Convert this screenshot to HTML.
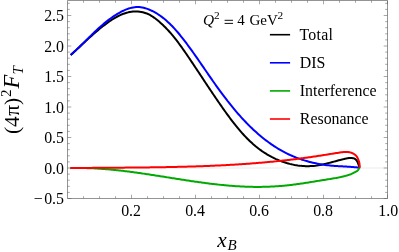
<!DOCTYPE html>
<html><head><meta charset="utf-8"><title>plot</title>
<style>html,body{margin:0;padding:0;background:#fff;}svg{display:block;will-change:transform;}</style></head>
<body>
<svg width="399" height="252" viewBox="0 0 399 252">
<rect width="399" height="252" fill="#fff"/>
<line x1="67.50" y1="168.00" x2="387.50" y2="168.00" stroke="#ebebeb" stroke-width="1"/>
<path d="M70.70 55.10L71.88 54.01L73.06 52.92L74.24 51.82L75.41 50.72L76.59 49.62L77.76 48.52L78.93 47.41L80.11 46.31L81.28 45.20L82.46 44.10L83.64 43.00L84.82 41.90L86.00 40.81L87.18 39.71L88.37 38.62L89.57 37.54L90.77 36.46L91.97 35.39L93.18 34.32L94.39 33.26L95.61 32.21L96.84 31.16L98.08 30.13L99.32 29.10L100.57 28.09L101.83 27.08L103.10 26.08L104.38 25.10L105.67 24.13L106.97 23.17L108.28 22.23L109.60 21.30L110.93 20.39L112.28 19.50L113.64 18.64L115.02 17.81L116.41 17.02L117.82 16.26L119.25 15.55L120.70 14.88L122.17 14.26L123.66 13.69L125.17 13.18L126.70 12.73L128.26 12.35L129.84 12.03L131.45 11.78L133.08 11.61L134.72 11.52L136.36 11.50L138.00 11.57L139.64 11.71L141.26 11.95L142.85 12.27L144.42 12.68L145.94 13.18L147.43 13.78L148.88 14.45L150.29 15.20L151.67 16.02L153.02 16.89L154.34 17.81L155.63 18.77L156.90 19.77L158.15 20.79L159.38 21.83L160.59 22.89L161.78 23.97L162.95 25.06L164.10 26.18L165.24 27.31L166.36 28.46L167.46 29.62L168.55 30.80L169.62 31.99L170.68 33.20L171.73 34.42L172.77 35.65L173.79 36.89L174.80 38.15L175.80 39.41L176.78 40.68L177.76 41.97L178.73 43.26L179.69 44.55L180.65 45.86L181.59 47.17L182.53 48.49L183.46 49.81L184.39 51.13L185.31 52.46L186.22 53.80L187.14 55.13L188.05 56.47L188.95 57.80L189.86 59.14L190.76 60.48L191.66 61.82L192.56 63.16L193.45 64.50L194.35 65.84L195.24 67.18L196.13 68.52L197.02 69.86L197.91 71.20L198.80 72.54L199.68 73.88L200.57 75.22L201.46 76.57L202.34 77.91L203.23 79.25L204.12 80.59L205.00 81.93L205.89 83.27L206.78 84.61L207.67 85.95L208.56 87.29L209.45 88.63L210.34 89.96L211.24 91.30L212.13 92.64L213.03 93.97L213.93 95.30L214.83 96.64L215.74 97.97L216.65 99.30L217.56 100.63L218.47 101.96L219.38 103.28L220.30 104.61L221.23 105.93L222.15 107.25L223.08 108.58L224.02 109.89L224.95 111.21L225.90 112.53L226.84 113.84L227.80 115.15L228.75 116.46L229.72 117.76L230.69 119.05L231.66 120.35L232.65 121.63L233.64 122.91L234.64 124.18L235.64 125.45L236.66 126.70L237.68 127.95L238.72 129.19L239.76 130.42L240.82 131.63L241.88 132.84L242.96 134.03L244.04 135.22L245.14 136.38L246.25 137.54L247.37 138.68L248.51 139.81L249.66 140.92L250.82 142.01L252.00 143.09L253.19 144.16L254.40 145.20L255.62 146.23L256.86 147.23L258.11 148.22L259.38 149.19L260.67 150.14L261.97 151.07L263.29 151.97L264.63 152.85L265.99 153.71L267.36 154.55L268.76 155.36L270.17 156.15L271.60 156.92L273.05 157.65L274.51 158.36L275.99 159.05L277.49 159.70L278.99 160.33L280.51 160.93L282.04 161.50L283.58 162.05L285.13 162.56L286.69 163.04L288.25 163.48L289.83 163.90L291.41 164.28L293.00 164.63L294.59 164.95L296.18 165.23L297.78 165.48L299.38 165.69L300.98 165.87L302.58 166.00L304.18 166.10L305.78 166.17L307.37 166.19L308.97 166.18L310.56 166.12L312.14 166.03L313.72 165.89L315.29 165.72L316.86 165.51L318.43 165.26L319.99 164.99L321.55 164.68L323.11 164.36L324.66 164.01L326.22 163.64L327.78 163.25L329.34 162.85L330.90 162.44L332.46 162.02L334.03 161.60L335.61 161.18L337.19 160.76L338.77 160.34L340.37 159.93L340.68 159.85L340.99 159.77L341.31 159.69L341.62 159.61L341.94 159.53L342.25 159.46L342.57 159.38L342.88 159.30L343.20 159.22L343.51 159.14L343.83 159.07L344.14 158.99L344.46 158.91L344.77 158.84L345.08 158.77L345.40 158.70L345.71 158.63L346.02 158.56L346.33 158.49L346.64 158.43L346.95 158.36L347.26 158.31L347.57 158.25L347.88 158.20L348.19 158.15L348.50 158.11L348.81 158.07L349.12 158.04L349.42 158.02L349.73 158.01L350.04 158.00L350.35 158.00L350.67 158.01L350.98 158.02L351.30 158.03L351.62 158.05L351.94 158.07L352.25 158.10L352.57 158.13L352.88 158.16L353.18 158.19L353.47 158.24L353.77 158.32L354.07 158.44L354.37 158.58L354.65 158.75L354.93 158.93L355.20 159.12L355.45 159.32L355.69 159.51L355.91 159.71L356.13 159.93L356.34 160.17L356.54 160.42L356.74 160.69L356.92 160.96L357.09 161.23L357.25 161.51L357.40 161.78L357.54 162.06L357.67 162.34L357.79 162.63L357.91 162.93L358.02 163.23L358.13 163.53L358.23 163.83L358.34 164.13L358.45 164.43L358.56 164.73L358.67 165.02L358.78 165.32L358.90 165.62L359.01 165.91L359.12 166.21L359.22 166.51L359.33 166.81L359.44 167.10L359.54 167.40L359.65 167.70" fill="none" stroke="#000" stroke-width="2.00" stroke-linejoin="round" stroke-linecap="butt"/>
<path d="M70.70 54.90L71.90 53.87L73.08 52.83L74.25 51.77L75.42 50.71L76.57 49.64L77.72 48.57L78.85 47.48L79.99 46.40L81.11 45.30L82.24 44.21L83.36 43.11L84.47 42.00L85.59 40.90L86.71 39.79L87.82 38.69L88.94 37.58L90.05 36.48L91.17 35.38L92.30 34.28L93.43 33.18L94.56 32.09L95.70 31.01L96.85 29.93L98.01 28.86L99.18 27.79L100.35 26.74L101.54 25.69L102.74 24.66L103.95 23.63L105.18 22.62L106.42 21.62L107.68 20.64L108.95 19.66L110.24 18.71L111.55 17.76L112.88 16.84L114.22 15.93L115.59 15.04L116.98 14.17L118.39 13.33L119.82 12.51L121.26 11.74L122.72 11.00L124.19 10.31L125.67 9.67L127.16 9.08L128.66 8.56L130.17 8.11L131.68 7.73L133.19 7.42L134.70 7.20L136.21 7.06L137.72 7.02L139.22 7.07L140.72 7.22L142.21 7.46L143.69 7.77L145.16 8.16L146.61 8.62L148.05 9.13L149.48 9.71L150.89 10.32L152.27 10.98L153.64 11.68L154.99 12.42L156.32 13.20L157.63 14.01L158.92 14.85L160.20 15.73L161.46 16.64L162.70 17.58L163.93 18.55L165.14 19.55L166.33 20.58L167.51 21.63L168.67 22.70L169.82 23.80L170.96 24.92L172.08 26.06L173.19 27.22L174.28 28.39L175.37 29.59L176.44 30.80L177.49 32.02L178.54 33.26L179.58 34.50L180.60 35.76L181.62 37.03L182.62 38.30L183.62 39.58L184.60 40.87L185.58 42.16L186.55 43.45L187.51 44.74L188.46 46.04L189.41 47.33L190.35 48.62L191.28 49.91L192.20 51.20L193.12 52.49L194.04 53.78L194.95 55.07L195.86 56.36L196.76 57.65L197.65 58.94L198.55 60.22L199.44 61.51L200.33 62.79L201.21 64.08L202.09 65.36L202.98 66.65L203.86 67.93L204.74 69.21L205.62 70.49L206.50 71.77L207.38 73.05L208.26 74.33L209.14 75.61L210.02 76.88L210.91 78.16L211.79 79.44L212.68 80.71L213.58 81.99L214.47 83.26L215.37 84.53L216.28 85.81L217.19 87.08L218.10 88.35L219.02 89.62L219.94 90.89L220.87 92.16L221.81 93.42L222.75 94.69L223.70 95.95L224.66 97.22L225.62 98.48L226.59 99.73L227.56 100.99L228.54 102.24L229.53 103.49L230.53 104.73L231.53 105.97L232.54 107.20L233.55 108.43L234.57 109.66L235.60 110.88L236.64 112.09L237.68 113.30L238.74 114.50L239.79 115.70L240.86 116.88L241.93 118.06L243.02 119.24L244.10 120.40L245.20 121.56L246.30 122.71L247.42 123.85L248.54 124.98L249.66 126.10L250.80 127.21L251.95 128.31L253.10 129.40L254.26 130.48L255.43 131.55L256.61 132.61L257.79 133.66L258.99 134.69L260.19 135.71L261.40 136.72L262.62 137.72L263.85 138.70L265.09 139.67L266.34 140.63L267.59 141.57L268.86 142.50L270.14 143.41L271.42 144.31L272.71 145.19L274.02 146.06L275.33 146.91L276.65 147.75L277.98 148.57L279.32 149.37L280.68 150.15L282.04 150.92L283.41 151.67L284.79 152.40L286.18 153.11L287.58 153.81L288.99 154.48L290.41 155.14L291.84 155.77L293.29 156.39L294.74 156.99L296.20 157.57L297.67 158.13L299.14 158.66L300.63 159.18L302.12 159.69L303.63 160.17L305.13 160.63L306.65 161.08L308.17 161.50L309.70 161.91L311.23 162.29L312.77 162.66L314.32 163.01L315.87 163.35L317.42 163.66L318.98 163.95L320.54 164.23L322.11 164.49L323.68 164.73L325.25 164.95L326.82 165.15L328.40 165.34L329.98 165.50L331.56 165.65L333.14 165.78L334.72 165.90L335.04 165.93L335.35 165.95L335.67 165.97L335.99 165.99L336.31 166.01L336.62 166.03L336.94 166.05L337.26 166.07L337.57 166.09L337.89 166.11L338.21 166.13L338.52 166.14L338.84 166.16L339.16 166.18L339.47 166.20L339.79 166.21L340.11 166.23L340.42 166.25L340.74 166.26L341.05 166.28L341.37 166.29L341.68 166.31L342.00 166.33L342.31 166.34L342.63 166.36L342.94 166.38L343.26 166.40L343.57 166.41L343.89 166.43L344.20 166.45L344.52 166.47L344.83 166.49L345.15 166.51L345.46 166.53L345.78 166.55L346.09 166.57L346.41 166.59L346.72 166.61L347.04 166.63L347.35 166.66L347.67 166.68L347.99 166.70L348.30 166.72L348.62 166.74L348.93 166.76L349.25 166.79L349.56 166.81L349.88 166.83L350.20 166.85L350.51 166.87L350.83 166.90L351.14 166.92L351.46 166.94L351.77 166.97L352.09 166.99L352.40 167.02L352.72 167.04L353.04 167.07L353.35 167.09L353.67 167.12L353.98 167.14L354.30 167.17L354.61 167.20L354.93 167.22L355.24 167.25L355.56 167.28L355.87 167.31L356.19 167.34L356.50 167.37L356.82 167.40L357.13 167.43L357.45 167.46L357.76 167.50L358.08 167.53L358.39 167.56L358.71 167.60L359.02 167.63L359.34 167.67L359.65 167.70" fill="none" stroke="#0000ff" stroke-width="2.00" stroke-linejoin="round" stroke-linecap="butt"/>
<path d="M70.30 168.15L71.53 168.11L72.75 168.08L73.97 168.06L75.20 168.04L76.42 168.03L77.65 168.02L78.87 168.01L80.09 168.02L81.31 168.02L82.54 168.04L83.76 168.05L84.98 168.08L86.20 168.11L87.42 168.14L88.65 168.17L89.87 168.22L91.09 168.26L92.31 168.31L93.53 168.37L94.75 168.43L95.97 168.49L97.19 168.56L98.41 168.64L99.62 168.71L100.84 168.79L102.06 168.88L103.28 168.97L104.50 169.06L105.72 169.16L106.93 169.26L108.15 169.36L109.37 169.47L110.59 169.58L111.80 169.69L113.02 169.81L114.24 169.93L115.45 170.05L116.67 170.18L117.88 170.31L119.10 170.44L120.32 170.58L121.53 170.72L122.75 170.86L123.96 171.00L125.18 171.15L126.39 171.30L127.61 171.45L128.82 171.61L130.04 171.76L131.25 171.92L132.46 172.08L133.68 172.25L134.89 172.41L136.11 172.58L137.32 172.75L138.53 172.92L139.75 173.09L140.96 173.27L142.17 173.44L143.39 173.62L144.60 173.80L145.81 173.98L147.02 174.16L148.24 174.34L149.45 174.53L150.66 174.71L151.87 174.90L153.09 175.08L154.30 175.27L155.51 175.46L156.72 175.65L157.93 175.84L159.15 176.03L160.36 176.22L161.57 176.42L162.78 176.61L163.99 176.80L165.21 176.99L166.42 177.19L167.63 177.38L168.84 177.57L170.05 177.76L171.26 177.96L172.47 178.15L173.69 178.34L174.90 178.53L176.11 178.73L177.32 178.92L178.53 179.11L179.74 179.30L180.95 179.49L182.16 179.68L183.38 179.86L184.59 180.05L185.80 180.24L187.01 180.42L188.22 180.61L189.43 180.79L190.64 180.97L191.85 181.15L193.07 181.33L194.28 181.50L195.49 181.68L196.70 181.85L197.91 182.03L199.12 182.20L200.33 182.36L201.55 182.53L202.76 182.70L203.97 182.86L205.18 183.02L206.39 183.18L207.60 183.33L208.82 183.49L210.03 183.64L211.24 183.79L212.45 183.93L213.66 184.08L214.88 184.22L216.09 184.35L217.30 184.49L218.51 184.62L219.73 184.75L220.94 184.88L222.15 185.00L223.37 185.12L224.58 185.24L225.79 185.35L227.01 185.46L228.22 185.57L229.43 185.67L230.65 185.77L231.86 185.86L233.07 185.95L234.29 186.04L235.50 186.13L236.72 186.21L237.93 186.28L239.15 186.35L240.36 186.42L241.57 186.48L242.79 186.54L244.00 186.60L245.22 186.65L246.44 186.69L247.65 186.74L248.87 186.77L250.08 186.81L251.30 186.83L252.51 186.86L253.73 186.88L254.95 186.89L256.16 186.90L257.38 186.91L258.59 186.90L259.81 186.90L261.03 186.89L262.24 186.87L263.46 186.85L264.68 186.83L265.89 186.80L267.11 186.76L268.33 186.72L269.54 186.68L270.76 186.62L271.98 186.57L273.19 186.51L274.41 186.44L275.63 186.36L276.84 186.29L278.06 186.20L279.28 186.11L280.50 186.02L281.71 185.91L282.93 185.81L284.15 185.69L285.36 185.57L286.58 185.45L287.80 185.32L289.02 185.18L290.23 185.04L291.45 184.89L292.67 184.74L293.88 184.59L295.10 184.43L296.32 184.27L297.54 184.10L298.75 183.93L299.97 183.75L301.19 183.57L302.40 183.39L303.62 183.21L304.84 183.02L306.06 182.84L307.27 182.65L308.49 182.45L309.71 182.26L310.92 182.06L312.14 181.87L313.36 181.67L314.57 181.47L315.79 181.27L317.00 181.07L318.22 180.88L319.44 180.68L320.65 180.48L321.87 180.28L323.08 180.08L324.30 179.89L325.52 179.69L326.73 179.50L327.95 179.31L329.16 179.12L330.38 178.93L331.59 178.73L332.80 178.54L334.01 178.34L335.22 178.13L336.43 177.92L337.63 177.70L337.94 177.64L338.25 177.58L338.56 177.52L338.87 177.45L339.18 177.39L339.48 177.33L339.79 177.26L340.10 177.20L340.41 177.13L340.71 177.06L341.02 176.99L341.32 176.92L341.63 176.85L341.93 176.78L342.24 176.71L342.54 176.63L342.85 176.56L343.15 176.48L343.46 176.41L343.76 176.33L344.07 176.25L344.37 176.17L344.67 176.10L344.98 176.01L345.28 175.93L345.58 175.85L345.89 175.77L346.19 175.68L346.50 175.60L346.80 175.51L347.11 175.43L347.41 175.34L347.72 175.25L348.02 175.16L348.32 175.07L348.63 174.97L348.93 174.87L349.23 174.77L349.52 174.67L349.82 174.57L350.12 174.46L350.41 174.34L350.70 174.23L350.99 174.10L351.28 173.98L351.57 173.85L351.86 173.72L352.15 173.58L352.43 173.44L352.72 173.30L353.00 173.16L353.29 173.02L353.57 172.87L353.85 172.72L354.13 172.58L354.41 172.43L354.69 172.28L354.97 172.14L355.26 171.99L355.55 171.85L355.84 171.70L356.13 171.55L356.41 171.39L356.69 171.23L356.95 171.06L357.21 170.88L357.44 170.70L357.66 170.49L357.86 170.27L358.05 170.02L358.22 169.75L358.40 169.48L358.57 169.20L358.74 168.93L358.93 168.66L359.12 168.41L359.33 168.17L359.54 167.93L359.75 167.70" fill="none" stroke="#00aa00" stroke-width="2.00" stroke-linejoin="round" stroke-linecap="butt"/>
<path d="M70.30 168.10L71.55 168.08L72.81 168.07L74.06 168.06L75.31 168.04L76.57 168.03L77.82 168.01L79.07 168.00L80.33 167.99L81.58 167.97L82.83 167.96L84.09 167.95L85.34 167.94L86.59 167.93L87.85 167.92L89.10 167.90L90.35 167.89L91.60 167.88L92.86 167.87L94.11 167.86L95.36 167.85L96.61 167.84L97.87 167.83L99.12 167.82L100.37 167.81L101.62 167.80L102.88 167.79L104.13 167.78L105.38 167.77L106.63 167.77L107.89 167.76L109.14 167.75L110.39 167.74L111.64 167.73L112.89 167.72L114.15 167.71L115.40 167.70L116.65 167.69L117.90 167.68L119.15 167.67L120.41 167.66L121.66 167.65L122.91 167.64L124.16 167.63L125.41 167.62L126.66 167.61L127.92 167.60L129.17 167.59L130.42 167.58L131.67 167.57L132.92 167.56L134.17 167.54L135.42 167.53L136.68 167.52L137.93 167.51L139.18 167.49L140.43 167.48L141.68 167.47L142.93 167.45L144.18 167.44L145.43 167.42L146.68 167.41L147.93 167.39L149.18 167.38L150.44 167.36L151.69 167.35L152.94 167.33L154.19 167.31L155.44 167.29L156.69 167.27L157.94 167.26L159.19 167.24L160.44 167.22L161.69 167.20L162.94 167.17L164.19 167.15L165.44 167.13L166.69 167.11L167.94 167.08L169.19 167.06L170.44 167.04L171.69 167.01L172.94 166.98L174.19 166.96L175.44 166.93L176.69 166.90L177.94 166.87L179.19 166.84L180.44 166.81L181.69 166.78L182.94 166.75L184.19 166.72L185.44 166.69L186.69 166.65L187.94 166.62L189.18 166.58L190.43 166.54L191.68 166.51L192.93 166.47L194.18 166.43L195.43 166.39L196.68 166.35L197.93 166.31L199.18 166.26L200.43 166.22L201.68 166.18L202.92 166.13L204.17 166.08L205.42 166.04L206.67 165.99L207.92 165.94L209.17 165.89L210.42 165.84L211.66 165.78L212.91 165.73L214.16 165.67L215.41 165.62L216.66 165.56L217.91 165.50L219.15 165.44L220.40 165.38L221.65 165.32L222.90 165.26L224.15 165.19L225.39 165.13L226.64 165.06L227.89 165.00L229.14 164.93L230.39 164.86L231.63 164.78L232.88 164.71L234.13 164.64L235.38 164.56L236.62 164.49L237.87 164.41L239.12 164.33L240.37 164.25L241.61 164.17L242.86 164.08L244.11 164.00L245.35 163.91L246.60 163.82L247.85 163.73L249.10 163.64L250.34 163.55L251.59 163.46L252.84 163.36L254.08 163.27L255.33 163.17L256.58 163.07L257.82 162.97L259.07 162.86L260.32 162.76L261.56 162.65L262.81 162.55L264.06 162.44L265.30 162.33L266.55 162.22L267.80 162.10L269.04 161.99L270.29 161.87L271.54 161.75L272.78 161.63L274.03 161.51L275.27 161.38L276.52 161.26L277.77 161.13L279.01 161.00L280.26 160.87L281.50 160.74L282.75 160.60L283.99 160.46L285.24 160.33L286.49 160.19L287.73 160.04L288.98 159.90L290.22 159.75L291.47 159.61L292.71 159.46L293.96 159.30L295.20 159.15L296.45 159.00L297.69 158.84L298.94 158.68L300.19 158.52L301.43 158.35L302.68 158.19L303.92 158.02L305.17 157.85L306.41 157.68L307.66 157.51L308.90 157.33L310.14 157.15L311.39 156.97L312.63 156.79L313.88 156.61L315.12 156.42L316.37 156.23L317.61 156.04L318.86 155.85L320.10 155.66L321.34 155.46L322.59 155.27L323.83 155.07L325.07 154.87L326.31 154.67L327.55 154.48L328.79 154.28L330.03 154.08L331.27 153.88L332.50 153.69L333.74 153.49L334.97 153.30L336.21 153.10L337.44 152.91L338.67 152.72L339.89 152.53L341.12 152.35L342.35 152.18L343.57 152.04L344.79 151.95L345.10 151.93L345.41 151.92L345.71 151.91L346.02 151.91L346.33 151.91L346.64 151.92L346.95 151.94L347.26 151.96L347.56 151.98L347.87 152.02L348.18 152.05L348.50 152.10L348.81 152.15L349.12 152.20L349.43 152.26L349.74 152.32L350.05 152.39L350.36 152.46L350.67 152.54L350.98 152.63L351.29 152.74L351.60 152.85L351.90 152.97L352.20 153.10L352.50 153.24L352.79 153.38L353.08 153.53L353.37 153.68L353.64 153.83L353.91 153.99L354.18 154.16L354.45 154.33L354.71 154.52L354.97 154.71L355.23 154.92L355.47 155.13L355.71 155.35L355.94 155.57L356.16 155.81L356.37 156.04L356.56 156.28L356.73 156.52L356.90 156.77L357.06 157.04L357.22 157.31L357.37 157.59L357.51 157.88L357.65 158.17L357.78 158.47L357.91 158.77L358.04 159.06L358.16 159.36L358.28 159.66L358.39 159.95L358.51 160.25L358.62 160.54L358.74 160.84L358.85 161.14L358.95 161.44L359.05 161.75L359.15 162.05L359.23 162.36L359.29 162.66L359.35 162.97L359.39 163.28L359.43 163.59L359.47 163.90L359.51 164.21L359.55 164.52L359.58 164.83L359.61 165.15L359.64 165.46L359.67 165.78L359.69 166.10L359.71 166.42L359.73 166.74L359.74 167.06L359.75 167.38L359.75 167.70" fill="none" stroke="#ff0000" stroke-width="2.00" stroke-linejoin="round" stroke-linecap="butt"/>
<path d="M67.50 0.50H387.50V198.50H67.50Z" fill="none" stroke="#666" stroke-width="0.7"/>
<path d="M67.50 198.50h3.80M387.50 198.50h-3.80M67.50 192.40h2.30M387.50 192.40h-2.30M67.50 186.30h2.30M387.50 186.30h-2.30M67.50 180.20h2.30M387.50 180.20h-2.30M67.50 174.10h2.30M387.50 174.10h-2.30M67.50 168.00h3.80M387.50 168.00h-3.80M67.50 161.90h2.30M387.50 161.90h-2.30M67.50 155.80h2.30M387.50 155.80h-2.30M67.50 149.70h2.30M387.50 149.70h-2.30M67.50 143.60h2.30M387.50 143.60h-2.30M67.50 137.50h3.80M387.50 137.50h-3.80M67.50 131.40h2.30M387.50 131.40h-2.30M67.50 125.30h2.30M387.50 125.30h-2.30M67.50 119.20h2.30M387.50 119.20h-2.30M67.50 113.10h2.30M387.50 113.10h-2.30M67.50 107.00h3.80M387.50 107.00h-3.80M67.50 100.90h2.30M387.50 100.90h-2.30M67.50 94.80h2.30M387.50 94.80h-2.30M67.50 88.70h2.30M387.50 88.70h-2.30M67.50 82.60h2.30M387.50 82.60h-2.30M67.50 76.50h3.80M387.50 76.50h-3.80M67.50 70.40h2.30M387.50 70.40h-2.30M67.50 64.30h2.30M387.50 64.30h-2.30M67.50 58.20h2.30M387.50 58.20h-2.30M67.50 52.10h2.30M387.50 52.10h-2.30M67.50 46.00h3.80M387.50 46.00h-3.80M67.50 39.90h2.30M387.50 39.90h-2.30M67.50 33.80h2.30M387.50 33.80h-2.30M67.50 27.70h2.30M387.50 27.70h-2.30M67.50 21.60h2.30M387.50 21.60h-2.30M67.50 15.50h3.80M387.50 15.50h-3.80M67.50 9.40h2.30M387.50 9.40h-2.30M67.50 3.30h2.30M387.50 3.30h-2.30M83.50 198.50v-2.30M83.50 0.50v2.30M99.50 198.50v-2.30M99.50 0.50v2.30M115.50 198.50v-2.30M115.50 0.50v2.30M131.50 198.50v-3.80M131.50 0.50v3.80M147.50 198.50v-2.30M147.50 0.50v2.30M163.50 198.50v-2.30M163.50 0.50v2.30M179.50 198.50v-2.30M179.50 0.50v2.30M195.50 198.50v-3.80M195.50 0.50v3.80M211.50 198.50v-2.30M211.50 0.50v2.30M227.50 198.50v-2.30M227.50 0.50v2.30M243.50 198.50v-2.30M243.50 0.50v2.30M259.50 198.50v-3.80M259.50 0.50v3.80M275.50 198.50v-2.30M275.50 0.50v2.30M291.50 198.50v-2.30M291.50 0.50v2.30M307.50 198.50v-2.30M307.50 0.50v2.30M323.50 198.50v-3.80M323.50 0.50v3.80M339.50 198.50v-2.30M339.50 0.50v2.30M355.50 198.50v-2.30M355.50 0.50v2.30M371.50 198.50v-2.30M371.50 0.50v2.30M387.50 198.50v-3.80M387.50 0.50v3.80" fill="none" stroke="#606060" stroke-width="0.55"/>
<g font-family="Liberation Serif, serif" font-size="15.9" fill="#000">
<text x="64.00" y="204.20" text-anchor="end">0.5</text>
<text x="42.73" y="204.20" text-anchor="end">−</text>
<text x="64.00" y="173.70" text-anchor="end">0.0</text>
<text x="64.00" y="143.20" text-anchor="end">0.5</text>
<text x="64.00" y="112.70" text-anchor="end">1.0</text>
<text x="64.00" y="82.20" text-anchor="end">1.5</text>
<text x="64.00" y="51.70" text-anchor="end">2.0</text>
<text x="64.00" y="21.20" text-anchor="end">2.5</text>
<text x="131.10" y="215.50" text-anchor="middle">0.2</text>
<text x="195.10" y="215.50" text-anchor="middle">0.4</text>
<text x="259.10" y="215.50" text-anchor="middle">0.6</text>
<text x="323.10" y="215.50" text-anchor="middle">0.8</text>
<text x="388.30" y="215.50" text-anchor="middle">1.0</text>
</g>
<g font-family="Liberation Serif, serif" font-size="15.9" fill="#000">
<line x1="269.9" x2="290.1" y1="34.70" y2="34.70" stroke="#000" stroke-width="1.6"/>
<text x="299.4" y="39.80" letter-spacing="0.28">Total</text>
<line x1="269.9" x2="290.1" y1="62.80" y2="62.80" stroke="#0000ff" stroke-width="1.6"/>
<text x="299.8" y="67.80">DIS</text>
<line x1="269.9" x2="290.1" y1="90.90" y2="90.90" stroke="#00aa00" stroke-width="1.6"/>
<text x="299.8" y="96.00">Interference</text>
<line x1="269.9" x2="290.1" y1="119.00" y2="119.00" stroke="#ff0000" stroke-width="1.6"/>
<text x="299.8" y="124.05">Resonance</text>
</g>
<g font-family="Liberation Serif, serif" font-size="15" fill="#000">
<text x="203" y="25"><tspan font-style="italic" font-size="15.4">Q</tspan><tspan font-size="11.3" dy="-5.6" dx="-0.2">2</tspan></text>
<path d="M224.6 20.3H233.0M224.6 23.4H233.0" stroke="#000" stroke-width="0.95" fill="none"/>
<text x="237.3" y="25">4</text>
<text x="249.4" y="25">GeV<tspan font-size="11.3" dy="-5.6" dx="-0.3">2</tspan></text>
</g>
<g font-family="Liberation Serif, serif" font-style="italic" fill="#000">
<text x="217.3" y="246.5" font-size="21.3">x<tspan font-size="15" dx="0.7" dy="3.3">B</tspan></text>
</g>
<g font-family="Liberation Serif, serif" fill="#000" transform="translate(19.2,134) rotate(-90)">
<text x="0" y="0" font-size="21.3">(4<tspan dx="0.5">π</tspan>)<tspan font-size="15" dx="1.0" dy="-8.7">2</tspan><tspan dy="8.7" dx="0.9" font-size="22.6" font-style="italic">F</tspan><tspan font-size="15" dx="0.3" dy="3.8" font-style="italic">T</tspan></text>
</g>
</svg>
</body></html>
